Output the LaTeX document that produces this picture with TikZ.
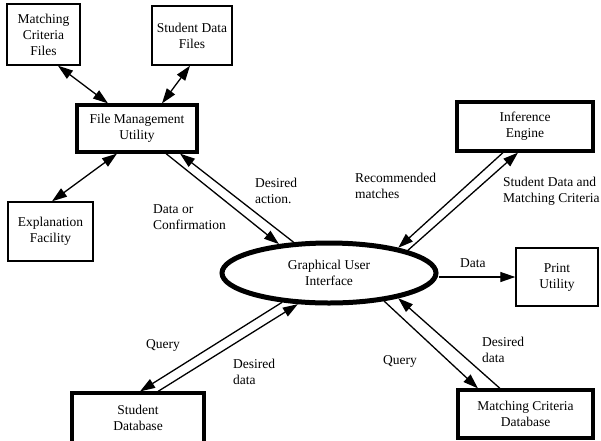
\documentclass[tikz,border=0pt]{standalone}
\usepackage{fontspec}
\setmainfont{Liberation Serif}
\usetikzlibrary{shapes.geometric,arrows.meta}
\begin{document}
\begin{tikzpicture}[x=1pt,y=-1pt,
  every node/.style={font=\fontsize{13.5}{16}\selectfont, align=center},
  thinbox/.style={draw, line width=1.4pt, inner sep=0pt},
  thickbox/.style={draw, line width=3.2pt, inner sep=0pt},
  conn/.style={line width=1.3pt},
  tip/.style={-{Triangle[length=15pt,width=10pt]}},
  dbl/.style={{Triangle[length=15pt,width=10pt]}-{Triangle[length=15pt,width=10pt]}},
  lbl/.style={anchor=west, align=left, inner sep=0pt}
]
\useasboundingbox (0,0) rectangle (601,440);
\fill[white] (0,0) rectangle (601,440);

\node[thinbox, minimum width=73pt, minimum height=61pt] (mcf) at (43.5,34.5) {Matching\\Criteria\\Files};
\node[thinbox, minimum width=80pt, minimum height=59pt] (sdf) at (192,35.5) {Student Data\\Files};
\node[thickbox, minimum width=120pt, minimum height=47pt] (fmu) at (137,128.5) {File Management\\Utility};
\node[thinbox, minimum width=85pt, minimum height=59pt] (ef) at (50.5,231.5) {Explanation\\Facility};
\node[thickbox, minimum width=136pt, minimum height=49pt] (ie) at (525,126.5) {Inference\\Engine};
\node[thinbox, minimum width=82pt, minimum height=58pt] (pu) at (557,277) {Print\\Utility};
\node[draw, ellipse, line width=5pt, minimum width=214pt, minimum height=60pt, inner sep=0pt] (gui) at (329,273) {Graphical User\\Interface};
\node[thickbox, minimum width=132pt, minimum height=50pt] (sd) at (138,418) {Student\\Database};
\node[thickbox, minimum width=135pt, minimum height=48pt] (mcdb) at (525.5,414) {Matching Criteria\\Database};

\draw[conn,dbl] ([xshift=14.5]mcf.south) -- ([xshift=-29]fmu.north);
\draw[conn,dbl] ([xshift=-2]sdf.south) -- ([xshift=25]fmu.north);
\draw[conn,dbl] ([xshift=-20]fmu.south) -- ([xshift=1.5]ef.north);
\draw[conn,tip] ([xshift=29]fmu.south) -- (gui.150);
\draw[conn,tip] (gui.139) -- ([xshift=43]fmu.south);
\draw[conn,tip] ([xshift=-22]ie.south) -- (gui.20);
\draw[conn,tip] (gui.16) -- ([xshift=-7]ie.south);
\draw[conn,tip] (gui.east |- pu.west) -- (pu.west);
\draw[conn,tip] (gui.212) -- ([xshift=2]sd.north);
\draw[conn,tip] ([xshift=20]sd.north) -- (gui.225);
\draw[conn,tip] (gui.333) -- ([xshift=-47.5]mcdb.north);
\draw[conn,tip] ([xshift=-25.5]mcdb.north) -- (gui.340);

\node[lbl] (l1) at (255,190.5) {Desired\\action.};
\node[lbl] (l2) at (153,217) {Data or\\Confirmation};
\node[lbl] (l3) at (355,185.5) {Recommended\\matches};
\node[lbl] (l4) at (503,191.5) {Student Data and\\Matching Criteria};
\node[lbl] (l5) at (460,263) {Data};
\node[lbl] (l6) at (146,345) {Query};
\node[lbl] (l7) at (233,372) {Desired\\data};
\node[lbl] (l8) at (383,361) {Query};
\node[lbl] (l9) at (482,349.5) {Desired\\data};
\end{tikzpicture}
\end{document}
